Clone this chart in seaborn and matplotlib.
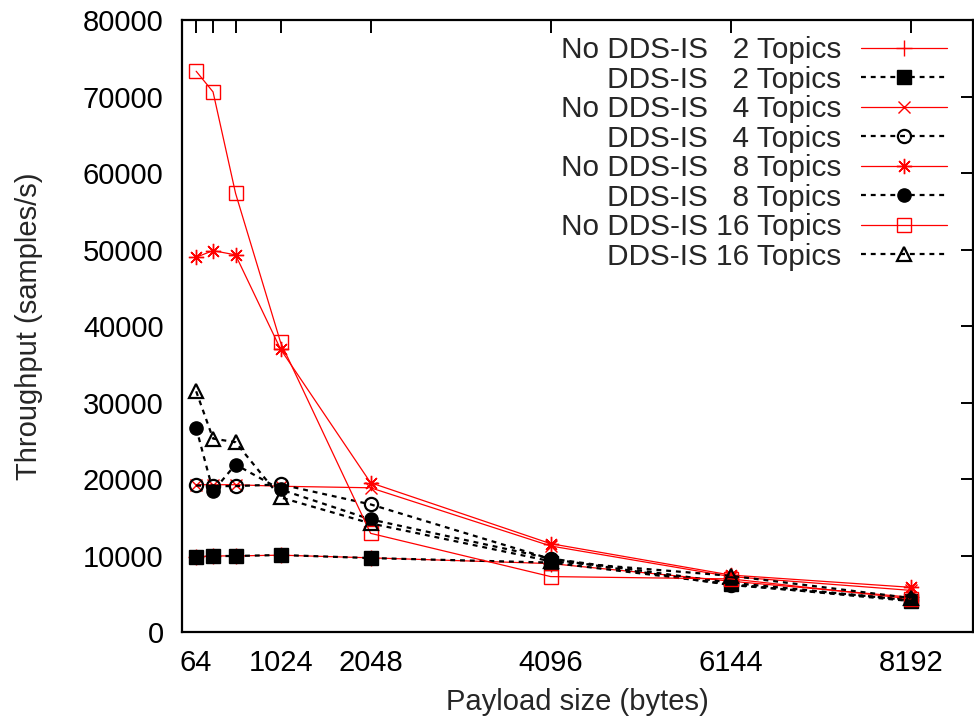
import matplotlib
matplotlib.use("Agg")
import matplotlib.pyplot as plt
import seaborn as sns

# payload sizes (bytes)
payload = [64, 256, 512, 1024, 2048, 4096, 6144, 8192]

# throughput (samples/s)
nodds_2 = [9900, 10000, 10000, 10100, 9750, 9000, 6700, 4600]
dds_2 = [9860, 9990, 9990, 10120, 9720, 9130, 6300, 4100]
nodds_4 = [19300, 19300, 19300, 19100, 18900, 11300, 7300, 5500]
dds_4 = [19200, 19120, 19120, 19340, 16730, 9600, 6200, 4300]
nodds_8 = [49020, 49880, 49320, 37000, 19560, 11600, 7500, 5900]
dds_8 = [26720, 18460, 21940, 18680, 14770, 9650, 6500, 4200]
nodds_16 = [73310, 70610, 57370, 37900, 12950, 7300, 7000, 4400]
dds_16 = [31500, 25330, 24850, 17640, 14250, 9300, 7400, 4500]

labels = ["No DDS-IS   2 Topics", "DDS-IS   2 Topics",
          "No DDS-IS   4 Topics", "DDS-IS   4 Topics",
          "No DDS-IS   8 Topics", "DDS-IS   8 Topics",
          "No DDS-IS 16 Topics", "DDS-IS 16 Topics"]
series = [nodds_2, dds_2, nodds_4, dds_4, nodds_8, dds_8, nodds_16, dds_16]

xticks = [64, 256, 512, 1024, 2048, 4096, 6144, 8192]
xticklabels = ["64", "", "", "1024", "2048", "4096", "6144", "8192"]

sns.set_style("white")
plt.rcParams['font.family'] = ['Liberation Sans', 'DejaVu Sans']

fig = plt.figure(figsize=(9.74, 7.23), dpi=100)
ax = fig.add_axes([0.1866, 0.1252, 0.8124, 0.8471])

red_style = dict(color="red", linewidth=0.9, linestyle="-")
black_style = dict(color="black", linewidth=1.6, linestyle=(0, (2.2, 2.2)))

markers = [
    dict(marker="+", markersize=11, markeredgewidth=1.0, markerfacecolor="red", markeredgecolor="red"),
    dict(marker="s", markersize=9.5, markeredgewidth=1.0, markerfacecolor="black", markeredgecolor="black"),
    dict(marker="x", markersize=9, markeredgewidth=1.0, markerfacecolor="red", markeredgecolor="red"),
    dict(marker="o", markersize=9.5, markeredgewidth=1.6, markerfacecolor="none", markeredgecolor="black"),
    dict(marker=(8, 2, 0), markersize=11, markeredgewidth=1.0, markerfacecolor="red", markeredgecolor="red"),
    dict(marker="o", markersize=9.5, markeredgewidth=1.0, markerfacecolor="black", markeredgecolor="black"),
    dict(marker="s", markersize=9.5, markeredgewidth=1.0, markerfacecolor="none", markeredgecolor="red"),
    dict(marker="^", markersize=10, markeredgewidth=1.6, markerfacecolor="none", markeredgecolor="black"),
]

for i, (vals, lab) in enumerate(zip(series, labels)):
    style = red_style if i % 2 == 0 else black_style
    sns.lineplot(x=payload, y=vals, ax=ax, label=lab, sort=False,
                 errorbar=None, **style, **markers[i])

ax.set_xlim(-100, 8900)
ax.set_ylim(0, 80000)
ax.set_xticks(xticks)
ax.set_xticklabels(xticklabels)
ax.set_yticks(range(0, 80001, 10000))

for side in ["left", "right", "top", "bottom"]:
    ax.spines[side].set_visible(True)
    ax.spines[side].set_color("black")
    ax.spines[side].set_linewidth(1.6)

ax.tick_params(axis="both", direction="in", length=9, width=1.4, color="black",
               labelsize=21, top=True, right=True, labelcolor="black")
ax.tick_params(axis="x", pad=12)
ax.tick_params(axis="y", pad=13)

ax.set_xlabel("Payload size (bytes)", fontsize=21, labelpad=8)
ax.set_ylabel("Throughput (samples/s)", fontsize=21, labelpad=29)

leg = ax.legend(loc="upper right", bbox_to_anchor=(0.9874, 1.0), frameon=False,
                markerfirst=False, fontsize=21.4, labelspacing=0.05,
                handlelength=2.9, handletextpad=0.65, borderaxespad=0.35,
                borderpad=0.2)

fig.savefig("out.png", dpi=100)
